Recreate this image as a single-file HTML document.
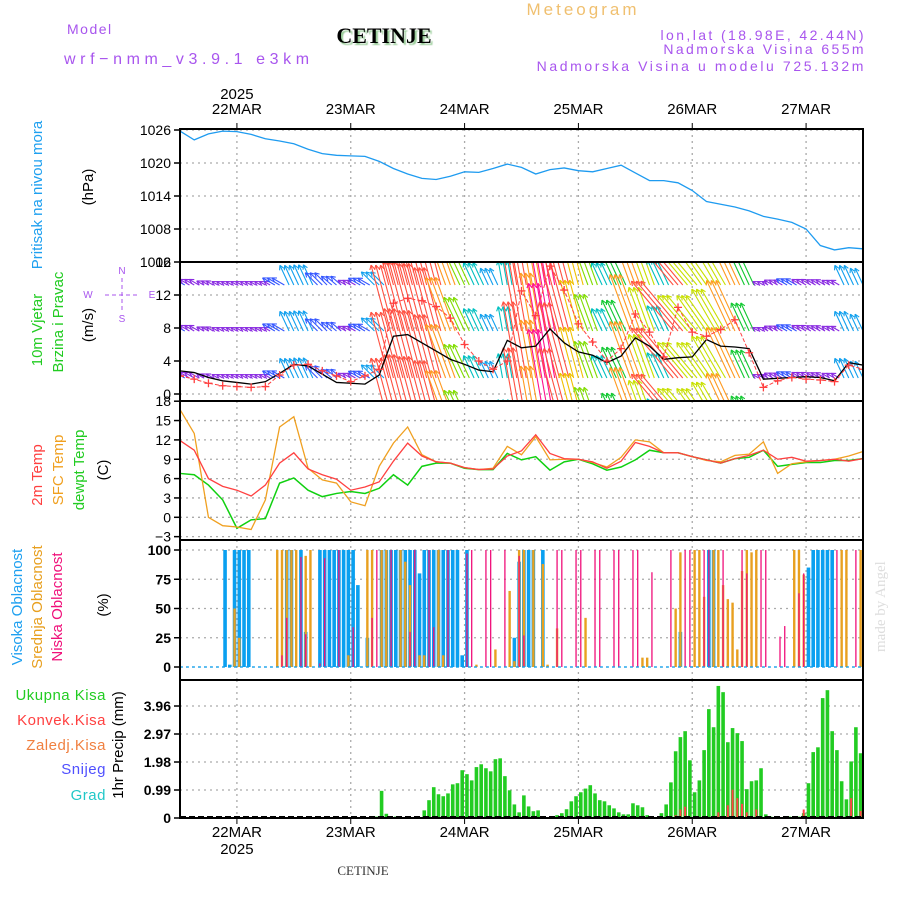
<!DOCTYPE html>
<html><head><meta charset="utf-8"><style>
body{margin:0;background:#fff}
svg{display:block;font-family:"Liberation Sans",sans-serif}
</style></head><body>
<svg id="chart" width="900" height="900" viewBox="0 0 900 900">
<defs>
<clipPath id="cw"><rect x="181" y="263" width="681" height="137"/></clipPath>
<filter id="sh"><feDropShadow dx="2" dy="2" stdDeviation="0.6" flood-color="#9c9"/></filter>
</defs>
<text x="583" y="15" fill="#f0c070" font-size="17" text-anchor="middle" letter-spacing="3">Meteogram</text>
<text x="67" y="34" fill="#a855ee" font-size="14" letter-spacing="1.5">Model</text>
<text x="64" y="64" fill="#a855ee" font-size="16" letter-spacing="4.6">wrf−nmm_v3.9.1  e3km</text>
<text x="384" y="43" fill="#000" font-size="22" font-weight="bold" font-family="Liberation Serif,serif" text-anchor="middle" filter="url(#sh)">CETINJE</text>
<text x="866" y="40" fill="#a855ee" font-size="14" text-anchor="end" letter-spacing="2.4">lon,lat (18.98E, 42.44N)</text>
<text x="866" y="54" fill="#a855ee" font-size="14" text-anchor="end" letter-spacing="2.4">Nadmorska Visina 655m</text>
<text x="866" y="71" fill="#a855ee" font-size="14" text-anchor="end" letter-spacing="2.6">Nadmorska Visina u modelu 725.132m</text>
<text x="363" y="875" fill="#333" font-size="13" font-family="Liberation Serif,serif" text-anchor="middle">CETINJE</text>
<text transform="translate(885,652) rotate(-90)" fill="#ddd" font-size="15" font-family="Liberation Serif,serif">made by Angel</text>
<g id="g"></g>
</svg>
<script>
const days=["22MAR","23MAR","24MAR","25MAR","26MAR","27MAR"];
const pressure=[1025.8,1024.2,1025.3,1025.8,1025.7,1025.2,1024.4,1024.0,1023.5,1022.5,1021.7,1021.4,1021.3,1021.2,1020.3,1019.0,1018.0,1017.2,1017.0,1017.6,1018.4,1018.3,1019.0,1019.8,1019.2,1018.0,1018.8,1019.1,1018.6,1018.4,1019.0,1019.6,1018.2,1016.8,1016.8,1016.4,1015.0,1013.0,1012.5,1012.0,1011.3,1010.3,1009.8,1009.2,1008.0,1005.0,1004.2,1004.6,1004.4];
const pressTicks=[1026,1020,1014,1008];
const windSpeed=[2.8,2.6,2.0,1.6,1.4,1.2,1.5,2.5,3.6,3.4,2.4,1.4,1.3,1.2,2.3,7.0,7.2,6.2,5.2,4.2,3.6,2.9,2.7,6.5,5.6,5.8,7.9,6.2,5.1,4.7,3.8,4.6,6.8,5.8,4.2,4.4,4.5,6.6,5.8,5.7,5.5,1.8,1.9,2.0,2.1,2.0,1.6,3.8,3.5];
const windGust=[2.2,1.8,1.3,1.0,0.9,0.8,0.9,2.3,3.5,3.6,2.8,2.2,1.5,2.2,3.0,11.0,11.6,11.3,10.6,9.2,6.0,4.0,3.0,4.0,12.5,9.5,15.5,12.6,8.5,6.3,4.0,5.5,9.7,7.5,4.5,10.5,7.5,7.0,7.8,9.0,5.0,0.8,1.6,2.0,1.8,1.7,1.5,3.5,3.0];
const windDir=[-60,-60,-60,-60,-60,-60,-60,-60,-25,-25,-45,-50,-60,-60,-45,-15,-15,-15,-15,-20,-25,-25,-25,-10,-10,-10,-10,-15,-15,-20,-25,-25,-20,-20,-25,-40,-40,-35,-30,-25,-25,-60,-60,-60,-60,-60,-60,-25,-25];
const windTicks=[16,12,8,4,0];
const temp2m=[11.9,10.4,6.0,4.8,4.2,3.3,5.0,8.4,10.0,7.5,6.6,5.9,4.2,4.7,5.5,8.7,11.5,9.5,8.6,8.4,7.7,7.4,7.5,9.5,10.3,12.8,9.9,9.1,9.0,8.6,7.6,8.7,11.6,11.0,10.0,10.0,9.4,8.9,8.4,9.1,9.6,10.4,9.0,9.3,8.7,8.8,9.0,8.7,9.1];
const tempSfc=[16.7,13.0,0.0,-1.3,-1.5,-1.9,2.7,14.0,15.6,7.6,5.8,5.3,2.4,1.8,7.9,11.5,14.0,9.7,8.6,8.4,7.7,7.4,7.6,11.0,9.7,12.5,8.9,9.0,9.0,8.5,7.8,9.3,12.0,11.7,10.0,10.0,9.4,8.8,8.6,9.6,9.8,11.7,6.8,8.3,8.6,8.8,9.0,9.5,10.2];
const tempDew=[6.8,6.6,5.0,2.7,-1.7,-0.4,-0.2,5.3,6.1,4.2,3.2,3.7,4.0,3.7,4.5,6.6,5.0,7.9,8.4,8.4,7.6,7.4,7.4,9.9,8.9,9.4,7.3,8.6,9.0,8.3,7.3,7.8,8.9,10.4,10.0,10.0,9.4,8.9,8.4,9.1,9.3,10.4,7.9,8.2,8.5,8.5,8.8,8.8,9.1];
const tempTicks=[18,15,12,9,6,3,0,-3];
const highHours=[9,10,11,12,13,14,22,23,25,26,29,30,31,32,33,34,35,36,37,39,42,43,44,45,46,47,48,49,50,51,52,53,54,55,56,57,58,59,60,70,71,72,73,74,76,105,111,112,132,133,134,135,136,137];
const highValues=[100,2,100,100,100,100,100,100,100,30,100,100,100,100,100,100,100,100,70,25,100,100,100,100,100,100,100,100,80,100,100,100,100,100,100,100,100,10,100,25,90,100,100,100,100,30,100,100,85,100,100,100,100,100];
const midHours=[11,12,20,21,22,23,24,26,27,35,39,40,42,43,46,47,48,50,51,54,55,62,66,69,70,71,72,74,76,77,79,85,97,98,104,105,108,109,110,112,113,114,115,116,117,118,119,120,121,129,130,131,139,140,143];
const midValues=[50,25,100,100,100,100,100,95,100,10,100,100,100,100,100,90,70,10,10,100,10,2,15,65,5,100,100,100,88,2,33,42,8,8,50,98,100,100,60,100,100,70,58,55,15,82,100,98,100,100,100,79,100,100,100];
const lowHours=[21,22,25,26,29,30,33,36,40,41,44,48,49,52,53,56,60,61,64,65,68,71,72,79,80,83,84,87,88,91,92,95,96,99,103,106,107,110,111,114,118,119,122,123,126,127,130,131,138,142];
const lowValues=[10,42,94,28,3,93,100,34,42,100,100,30,100,100,34,100,97,100,100,100,100,95,27,100,100,100,100,100,100,100,100,100,100,81,100,100,100,100,100,100,100,80,100,100,26,35,63,80,100,100];
const cloudTicks=[100,75,50,25,0];
const precipTotal=[0,0,0,0,0,0,0,0,0,0,0,0,0,0,0,0,0,0,0,0,0,0,0,0,
0,0,0,0,0,0,0,0,0,0,0,0,0,0,0,0,0,0.05,0.96,0.15,0.05,0.05,0,0,
0,0,0,0.27,0.63,1.09,0.84,0.77,0.87,1.19,1.23,1.69,1.55,1.33,1.8,1.9,1.76,1.65,2.08,2.11,1.48,0.98,0.48,0.2,
0.8,0.41,0.24,0.27,0.04,0,0.03,0.1,0.17,0.31,0.59,0.77,0.91,1.04,1.16,0.87,0.63,0.59,0.45,0.34,0.2,0.13,0.13,0.52,
0.45,0.38,0.1,0,0,0.17,0.48,1.26,2.36,2.86,3.07,2.04,0.91,1.33,2.4,3.85,3.21,4.67,4.45,2.68,3.18,3.0,2.72,1.02,
1.3,1.33,1.76,0.13,0.05,0,0,0,0.05,0.05,0.05,0.17,1.23,2.33,2.5,4.24,4.52,3.07,2.4,1.3,0.66,2.0,3.21,2.29];
const convHours=[104,105,106,110,113,115,116,117,118,119,121,131,141,143];
const convValues=[0.1,0.3,0.4,0.05,0.2,0.45,1.0,0.7,0.5,0.2,0.3,0.3,0.7,0.25];
const precipTicks=["3.96","2.97","1.98","0.99","0"];

const NS="http://www.w3.org/2000/svg";
const G=document.getElementById('g');
function mk(tag,attrs,parent){const e=document.createElementNS(NS,tag);for(const k in attrs)e.setAttribute(k,attrs[k]);(parent||G).appendChild(e);return e;}
const X0=180,X1=863,HRS=144;
const X=h=>X0+h*(X1-X0)/HRS;
const yP=v=>262-(v-1002)*5.5;
const yW=v=>394-v*8.25;
const yT=v=>517.3-v*6.45;
const yC=v=>667-v*1.17;
const yR=v=>818-v*28.28;
const panels=[{t:129,b:262,n:'pressure-panel'},{t:262,b:401,n:'wind-panel'},{t:401,b:540,n:'temperature-panel'},{t:540,b:680,n:'cloud-panel'},{t:680,b:818,n:'precip-panel'}];

function grid(p,ys){
  for(let d=0;d<days.length;d++){const x=X(12+24*d);
    const l=mk('line',{x1:x,x2:x,y1:p.t,y2:p.b,stroke:'#aaa','stroke-width':1.3,'stroke-dasharray':'2,4'});
    }
  ys.forEach(y=>{const l=mk('line',{x1:X0,x2:X1,y1:y,y2:y,stroke:'#aaa','stroke-width':1.3,'stroke-dasharray':'2,4'});
    });
}
function ticks(vals,labels,yf,bold){
  vals.forEach((v,i)=>{const y=yf(v);
    mk('line',{x1:174,x2:180,y1:y,y2:y,stroke:'#000','stroke-width':1.5});
    const t=mk('text',{x:171,y:y+5,'font-size':14,'text-anchor':'end','font-weight':bold?'bold':'normal'});
    t.textContent=labels[i];});
}
function line(vals,yf,color,w,name){
  const pts=vals.map((v,i)=>X(i*3)+','+yf(v)).join(' ');
  const e=mk('polyline',{points:pts,fill:'none',stroke:color,'stroke-width':w});
  return e;
}
grid(panels[0],pressTicks.map(yP));
grid(panels[1],windTicks.map(yW));
grid(panels[2],tempTicks.map(yT));
grid(panels[3],cloudTicks.map(yC));
grid(panels[4],precipTicks.map(v=>yR(parseFloat(v))));
line(pressure,yP,'#1e9bf0',1.3,'pressure-line');
ticks(pressTicks,pressTicks.map(String),yP,false);
{const t=mk('text',{x:171,y:267,'font-size':14,'text-anchor':'end'});t.textContent='1002';}
const windG=mk('g',{'clip-path':'url(#cw)'});

function spdColor(s){if(s<2)return'#8a2be2';if(s<3)return'#3355ff';if(s<4)return'#11a0ee';if(s<5)return'#00c0c0';if(s<6)return'#10c830';if(s<7)return'#80dd00';if(s<8)return'#c8e000';if(s<9)return'#f0c000';if(s<10)return'#ff9a20';if(s<13)return'#ff5040';return'#ff1090';}
[285,331,378,424].forEach(base=>{
  for(let h=0;h<=HRS;h++){
    const i=Math.round(h/3);const s=windGust[i];const a=windDir[i]*Math.PI/180;
    const L=Math.max(7,s*6.2);const x=X(h);const tx=x+Math.sin(a)*L,ty=base-Math.cos(a)*L;
    const c=spdColor(s);const ar=mk('g',{stroke:c,'stroke-width':1.1,fill:'none'},windG);
    
    mk('line',{x1:x,y1:base,x2:tx,y2:ty},ar);
    [0.5,-0.5].forEach(d=>{mk('line',{x1:tx,y1:ty,x2:tx-Math.sin(a+d)*5,y2:ty+Math.cos(a+d)*5},ar);});
  }
});
{const e=line(windSpeed,yW,'#000',1.3,'wind-speed-line');windG.appendChild(e);
 const g2=line(windGust,yW,'#ff4040',1,'wind-gust-line');g2.setAttribute('stroke-dasharray','4,2');windG.appendChild(g2);
 windGust.forEach((v,i)=>{const x=X(i*3),y=yW(v);const p=mk('path',{d:`M${x-4},${y}h8M${x},${y-4}v8`,stroke:'#ff4040','stroke-width':1.3},windG);
  });}
ticks(windTicks,windTicks.map(String),yW,false);
line(tempDew,yT,'#10d010',1.5,'dewpoint-line');
line(tempSfc,yT,'#f0a020',1.3,'sfc-temp-line');
line(temp2m,yT,'#ff4040',1.3,'temp-2m-line');
ticks(tempTicks,tempTicks.map(v=>v<0?'−'+(-v):String(v)),yT,false);
function cbars(hours,vals,color,w,name){hours.forEach((h,i)=>{const x=X(h+0.5),y=yC(vals[i]);
  const r=mk('rect',{x:x-w/2,y:y,width:w,height:yC(0)-y,fill:color});});}
cbars(highHours,highValues,'#0aa0f0',3.6,'high-cloud-bar');
cbars(midHours,midValues,'#e8a020',2.4,'mid-cloud-bar');
cbars(lowHours,lowValues,'#f0107a',1.3,'low-cloud-bar');
{const b=mk('line',{x1:X0,x2:X1,y1:yC(0),y2:yC(0),stroke:'#0aa0f0','stroke-width':1.2,'stroke-dasharray':'3,3'});}
ticks(cloudTicks,cloudTicks.map(String),yC,true);
precipTotal.forEach((v,h)=>{if(v<=0)return;const x=X(h+0.5),y=yR(v);
  const r=mk('rect',{x:x-1.8,y:y,width:3.6,height:818-y,fill:'#22cc22'});});
convHours.forEach((h,i)=>{const x=X(h+0.5),y=yR(convValues[i]);
  const r=mk('rect',{x:x-1,y:y,width:2,height:818-y,fill:'#ff4444'});});
{const b=mk('line',{x1:X0,x2:X1,y1:817,y2:817,stroke:'#000','stroke-width':2,'stroke-dasharray':'6,3'});}
ticks(precipTicks.map(parseFloat),precipTicks,yR,true);
panels.forEach(p=>{const r=mk('rect',{x:X0,y:p.t,width:X1-X0,height:p.b-p.t,fill:'none',stroke:'#000','stroke-width':2});
  });
days.forEach((d,i)=>{const x=X(12+24*i);
  mk('line',{x1:x,x2:x,y1:123,y2:129,stroke:'#000'});mk('line',{x1:x,x2:x,y1:818,y2:824,stroke:'#000'});
  const t=mk('text',{x:x,y:114,'font-size':15,'text-anchor':'middle'});t.textContent=d;
  const b=mk('text',{x:x,y:837,'font-size':15,'text-anchor':'middle'});b.textContent=d;});
{const t=mk('text',{x:X(12),y:99,'font-size':15,'text-anchor':'middle'});t.textContent='2025';
 const b=mk('text',{x:X(12),y:854,'font-size':15,'text-anchor':'middle'});b.textContent='2025';}
function vt(txt,x,y,color,name,size){const t=mk('text',{transform:`translate(${x},${y}) rotate(-90)`,fill:color,'font-size':size||15,'text-anchor':'middle'});t.textContent=txt;}
vt('Pritisak na nivou mora',42,195,'#1ea0f0','pressure-title');
vt('(hPa)',93,187,'#000','pressure-unit');
vt('10m Vjetar',42,330,'#22cc22','wind-title');
vt('Brzina i Pravac',63,322,'#22cc22','wind-subtitle');
vt('(m/s)',93,325,'#000','wind-unit');
vt('2m Temp',42,475,'#ff4040','temp-2m-title');
vt('SFC Temp',63,470,'#f0a020','sfc-temp-title');
vt('dewpt Temp',84,470,'#22cc22','dewpoint-title');
vt('(C)',108,470,'#000','temp-unit');
vt('Visoka Oblacnost',22,607,'#1ea0f0','high-cloud-title');
vt('Srednja Oblacnost',42,607,'#e8a020','mid-cloud-title');
vt('Niska Oblacnost',62,607,'#f0107a','low-cloud-title');
vt('(%)',108,605,'#000','cloud-unit');
vt('1hr Precip (mm)',123,745,'#000','precip-title');
[['Ukupna  Kisa',700,'#22cc22'],['Konvek.Kisa',725,'#ff4040'],['Zaledj.Kisa',750,'#f08040'],['Snijeg',774,'#5050ff'],['Grad',800,'#20c8c8']].forEach(([s,y,c])=>{
  const t=mk('text',{x:106,y:y,fill:c,'font-size':15,'text-anchor':'end','letter-spacing':0.5});t.textContent=s;});
{const c=mk('g',{fill:'#a855ee',stroke:'#a855ee','font-size':10});
 mk('line',{x1:105,x2:138,y1:295,y2:295,'stroke-dasharray':'4,3'},c);mk('line',{x1:122,x2:122,y1:278,y2:312,'stroke-dasharray':'4,3'},c);
 [['N',122,274],['S',122,322],['W',88,298],['E',152,298]].forEach(([s,x,y])=>{const t=mk('text',{x:x,y:y,'text-anchor':'middle',stroke:'none'},c);t.textContent=s;});}
</script>
</body></html>
